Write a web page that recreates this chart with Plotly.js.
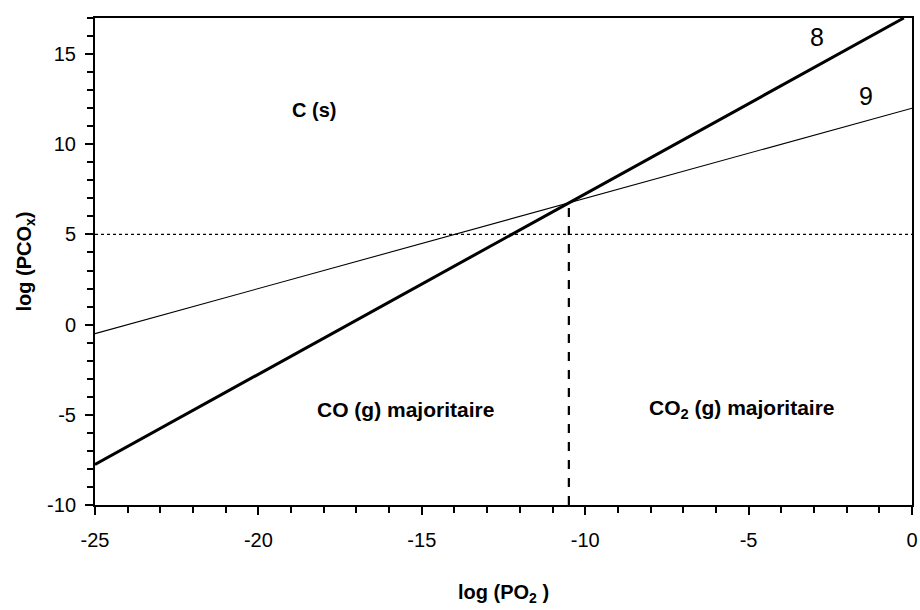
<!DOCTYPE html>
<html><head><meta charset="utf-8">
<script src="https://cdn.plot.ly/plotly-3.0.1.min.js"></script>
<style>body{margin:0;background:#fff}#g{width:920px;height:610px}</style>
</head><body><div id="g"></div>
<script>
// Line 8 : slope 1
const x8 = [-25, -10.5, -0.25];
const y8 = [-7.75, 6.75, 17.0];
// Line 9 : slope 1/2
const x9 = [-25, -10.5, 0];
const y9 = [-0.5, 6.75, 12.0];
// Reference lines
const hLineX = [-25, 0];
const hLineY = [5, 5];
const vLineX = [-10.5, -10.5];
const vLineY = [-10, 6.75];
// Tick labels
const xTickVals = [-25, -20, -15, -10, -5, 0];
const xTickText = ["-25", "-20", "-15", "-10", "-5", "0"];
const yTickVals = [-10, -5, 0, 5, 10, 15];
const yTickText = ["-10", "-5", "0", "5", "10", "15"];
// Labels
const labelText = ["8", "9", "C (s)", "CO (g) majoritaire", "CO<sub>2</sub> (g) majoritaire"];
const labelX = [-2.9, -1.4, -18.3, -15.5, -5.2];
const labelY = [15.95, 12.65, 11.9, -4.7, -4.7];
const labelSize = [25, 25, 20, 21, 21];

const black = '#000';
const traces = [
  {x: hLineX, y: hLineY, mode: 'lines', line: {color: black, width: 1.3, dash: 'dot'}, hoverinfo: 'skip'},
  {x: vLineX, y: vLineY, mode: 'lines', line: {color: black, width: 2.2, dash: 'dash'}, hoverinfo: 'skip'},
  {x: x9, y: y9, mode: 'lines', line: {color: black, width: 1.1}},
  {x: x8, y: y8, mode: 'lines', line: {color: black, width: 3}}
];
const fontFam = 'Liberation Sans, Arial, sans-serif';
const annotations = labelText.map((t, i) => ({
  x: labelX[i], y: labelY[i], text: t, showarrow: false, xanchor: 'center', yanchor: 'middle',
  font: {family: fontFam, size: labelSize[i], color: black, weight: i < 2 ? 'normal' : 'bold'}
}));
const minorTicks = {dtick: 1, ticks: 'outside', ticklen: 6, tickwidth: 2, tickcolor: black, showgrid: false};
const layout = {
  width: 920, height: 610,
  margin: {l: 95, r: 8, t: 18, b: 105},
  paper_bgcolor: '#fff', plot_bgcolor: '#fff',
  showlegend: false,
  font: {family: fontFam, color: black, size: 20},
  xaxis: {
    range: [-25, 0], tickmode: 'array', tickvals: xTickVals, ticktext: xTickText,
    showgrid: false, zeroline: false,
    showline: true, linecolor: black, linewidth: 2, mirror: true,
    ticks: 'outside', ticklen: 8, tickwidth: 2, tickcolor: black,
    minor: minorTicks,
    ticklabelstandoff: 8,
    tickfont: {size: 20},
    title: {text: 'log (PO<sub>2</sub> )', font: {size: 20, weight: 'bold'}, standoff: 35}
  },
  yaxis: {
    range: [-10, 17], tickmode: 'array', tickvals: yTickVals, ticktext: yTickText,
    showgrid: false, zeroline: false,
    showline: true, linecolor: black, linewidth: 2, mirror: true,
    ticks: 'outside', ticklen: 8, tickwidth: 2, tickcolor: black,
    minor: minorTicks,
    ticklabelstandoff: 5,
    tickfont: {size: 20},
    title: {text: 'log (PCO<sub>x</sub>)', font: {size: 20, weight: 'bold'}, standoff: 10}
  },
  annotations: annotations
};
Plotly.newPlot('g', traces, layout, {displayModeBar: false, staticPlot: true});
</script>
</body></html>
